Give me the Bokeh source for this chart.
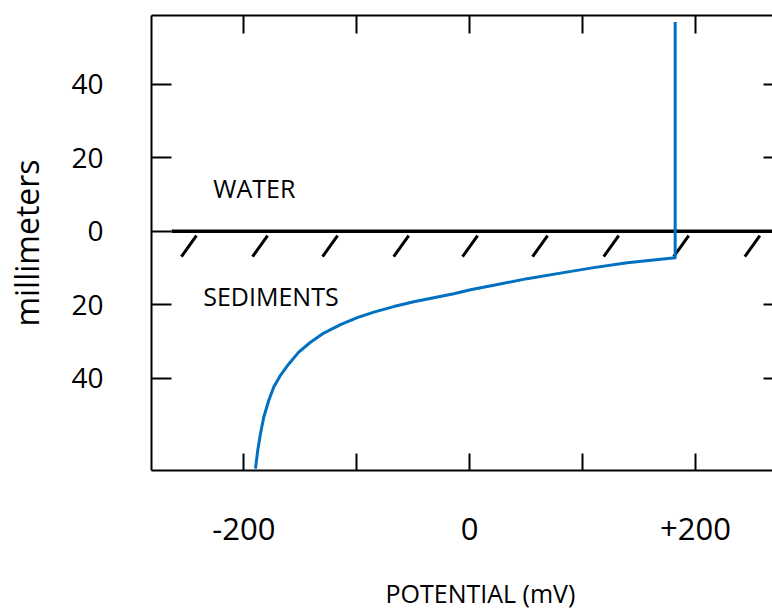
from bokeh.plotting import figure
from bokeh.models import LinearAxis, FixedTicker, Range1d, Title
from bokeh.embed import file_html
from bokeh.resources import INLINE
from bokeh.core.properties import value

# ---- data ----
profile_potential = [182, 182, 139.5, 109.9, 80.4, 50.9, 21.3, 0.7, -14.1, -31.8,
                     -49.5, -67.2, -84.9, -99.6, -114.4, -129.2, -141.0, -151.4,
                     -160.2, -167.6, -173.5, -177.9, -182.4, -185.3, -187.7, -189.7]
profile_depth = [56.9, -7.2, -8.6, -9.9, -11.4, -12.9, -14.7, -15.9, -17.0, -18.1,
                 -19.2, -20.5, -22.0, -23.5, -25.4, -27.7, -30.2, -32.9,
                 -36.1, -39.2, -42.4, -46.0, -50.6, -55.1, -59.6, -64.6]

water_x = [-264, 268.2]
water_y = [0, 0]

hatch_x = [-242, -179, -117, -54, 7, 69, 132, 194, 257]

x_major = [-200, 0, 200]
x_minor = [-100, 100]
x_all = [-200, -100, 0, 100, 200]
x_tick_labels = {-200: "-200", 0: "0", 200: "+200"}
y_ticks = [40, 20, 0, -20, -40]
y_tick_labels = {40: "40", 20: "20", 0: "0", -20: "20", -40: "40"}

water_label = "WATER"
sediment_label = "SEDIMENTS"
x_title = "POTENTIAL (mV)"
y_title = "millimeters"

# ---- styling constants ----
FONT = "Open Sans"
BLUE = "#0070C0"
hatch_top, hatch_bottom, hatch_dx = -1.2, -6.9, -13.3

p = figure(width=772, height=612, output_backend="svg", toolbar_location=None,
           x_range=Range1d(-281.8, 268.2), y_range=Range1d(-65.1, 58.7),
           min_border_left=151, min_border_right=0, min_border_top=15,
           min_border_bottom=142, x_axis_location=None, y_axis_location=None)
p.outline_line_color = None
p.xgrid.visible = False
p.ygrid.visible = False
p.background_fill_color = "white"
p.border_fill_color = "white"


def base_axis(ax):
    ax.axis_line_color = "black"
    ax.axis_line_width = 2
    ax.major_tick_line_color = "black"
    ax.major_tick_line_width = 2
    ax.major_tick_out = 0
    ax.minor_tick_line_color = "black"
    ax.minor_tick_line_width = 2
    ax.minor_tick_out = 0
    ax.major_label_text_font = FONT
    ax.major_label_text_color = "black"


def title_axis(text, size, standoff):
    ax = LinearAxis(ticker=FixedTicker(ticks=[]), axis_label=text)
    ax.axis_line_color = None
    ax.major_tick_line_color = None
    ax.minor_tick_line_color = None
    ax.major_tick_out = 0
    ax.major_tick_in = 0
    ax.minor_tick_out = 0
    ax.minor_tick_in = 0
    ax.major_label_standoff = 0
    ax.axis_label_text_font = FONT
    ax.axis_label_text_font_size = size
    ax.axis_label_text_font_style = "normal"
    ax.axis_label_text_color = "black"
    ax.axis_label_standoff = standoff
    return ax


# bottom axis
xb = LinearAxis(ticker=FixedTicker(ticks=x_major, minor_ticks=x_minor),
                major_label_overrides=x_tick_labels)
base_axis(xb)
xb.major_tick_in = 17
xb.minor_tick_in = 17
xb.major_label_text_font_size = "31px"
xb.major_label_standoff = 47
p.add_layout(xb, "below")

# x title: a Title shifted right of centre, pushed down with top padding
if "padding" in Title.properties():
    t = Title(text=x_title, align="left", offset=234, vertical_align="bottom",
              text_font=FONT, text_font_size="25px", text_font_style="normal",
              text_color="black", standoff=0)
    t.padding = dict(left=0, right=0, top=31, bottom=0)
    p.add_layout(t, "below")
else:
    p.add_layout(title_axis(x_title, "25px", 32), "below")

# top axis (ticks only)
xt = LinearAxis(ticker=FixedTicker(ticks=[], minor_ticks=x_all))
base_axis(xt)
xt.minor_tick_in = 18
xt.major_label_standoff = 0
p.add_layout(xt, "above")

# left axis
yl = LinearAxis(ticker=FixedTicker(ticks=y_ticks), major_label_overrides=y_tick_labels)
base_axis(yl)
yl.major_tick_in = 20
yl.major_label_text_font_size = "28px"
yl.major_label_standoff = 48
p.add_layout(yl, "left")
p.add_layout(title_axis(y_title, "32px", 21), "left")

# right axis (ticks only)
yr = LinearAxis(ticker=FixedTicker(ticks=[], minor_ticks=y_ticks))
base_axis(yr)
yr.axis_line_color = None
yr.minor_tick_in = 9
yr.major_label_standoff = 0
p.add_layout(yr, "right")

# water surface
p.line(water_x, water_y, line_color="black", line_width=3.5)

# sediment hatching
p.segment(x0=hatch_x, y0=[hatch_top] * len(hatch_x),
          x1=[h + hatch_dx for h in hatch_x], y1=[hatch_bottom] * len(hatch_x),
          line_color="black", line_width=3)

# potential profile
p.line(profile_potential, profile_depth, line_color=BLUE, line_width=3,
       line_join="round")

# labels
p.text(x=[-227], y=[11.8], text=[water_label], text_font=value(FONT),
       text_font_size="25px", text_color="black", text_align="left",
       text_baseline="alphabetic")
p.text(x=[-236], y=[-17.5], text=[sediment_label], text_font=value(FONT),
       text_font_size="25px", text_color="black", text_align="left",
       text_baseline="alphabetic")

open("out.html", "w").write(file_html(p, INLINE))
